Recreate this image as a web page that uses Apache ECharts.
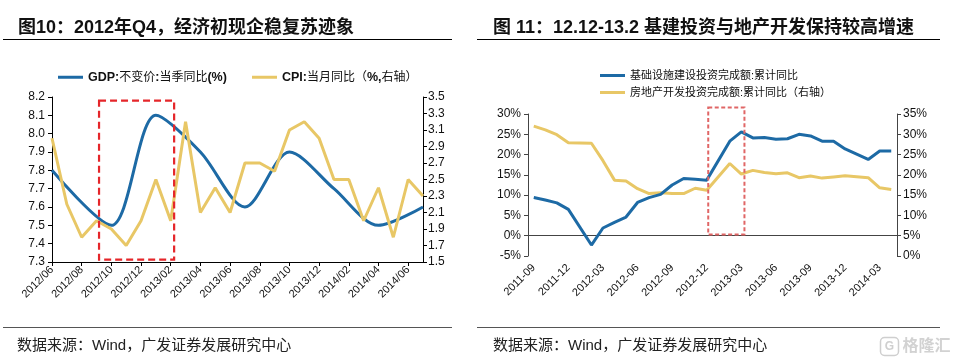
<!DOCTYPE html>
<html><head><meta charset="utf-8">
<script src="https://cdn.jsdelivr.net/npm/echarts@6/dist/echarts.min.js"></script>
<style>html,body{margin:0;padding:0;background:#fff}#c{width:954px;height:362px}</style>
</head><body><div id="c"></div>
<script>
// ---------- data ----------
const leftMonths = ['2012/06','2012/07','2012/08','2012/09','2012/10','2012/11','2012/12',
  '2013/01','2013/02','2013/03','2013/04','2013/05','2013/06','2013/07','2013/08','2013/09','2013/10','2013/11','2013/12',
  '2014/01','2014/02','2014/03','2014/04','2014/05','2014/06','2014/07'];
// GDP is quarterly: month on the axis and value
const gdpMonths = ['2012/06','2012/10','2013/01','2013/04','2013/07','2013/10','2014/01','2014/04','2014/07'];
const gdp = [7.8,7.5,8.1,7.9,7.6,7.9,7.7,7.5,7.6];
const cpi = [3.0,2.2,1.8,2.0,1.9,1.7,2.0,2.5,2.0,3.2,2.1,2.4,2.1,2.7,2.7,2.6,3.1,3.2,3.0,2.5,2.5,2.0,2.4,1.8,2.5,2.3];
const gdpName = 'GDP:不变价:当季同比(%)';
const cpiName = 'CPI:当月同比（%,右轴）';

const rightMonths = ['2011-09','2011-10','2011-11','2011-12',
  '2012-01','2012-02','2012-03','2012-04','2012-05','2012-06','2012-07','2012-08','2012-09','2012-10','2012-11','2012-12',
  '2013-01','2013-02','2013-03','2013-04','2013-05','2013-06','2013-07','2013-08','2013-09','2013-10','2013-11','2013-12',
  '2014-01','2014-02','2014-03','2014-04'];
const infra = [9.4,8.8,8.1,6.5,null,-2.3,1.9,3.3,4.6,8.2,9.4,10.2,12.5,14.1,13.9,13.7,null,23.3,25.6,24.1,24.2,23.8,23.9,25.0,24.6,23.3,23.3,21.4,null,18.8,20.9,20.9];
const realEstate = [32.0,31.1,29.9,27.9,null,27.8,23.5,18.7,18.5,16.6,15.4,15.6,15.4,15.4,16.7,16.2,null,22.8,20.2,21.1,20.6,20.3,20.5,19.3,19.7,19.2,19.5,19.8,null,19.3,16.8,16.4];
const infraName = '基础设施建设投资完成额:累计同比';
const reName = '房地产开发投资完成额:累计同比（右轴）';

const leftTitle = '图10：2012年Q4，经济初现企稳复苏迹象';
const rightTitle = '图 11：12.12-13.2 基建投资与地产开发保持较高增速';
const sourceText = '数据来源：Wind，广发证券发展研究中心';

// highlighted ranges (data coordinates)
const leftBox = {from: 3.17, to: 8.23, top: 8.18, bottom: 7.313};
const rightBox = {from: 15.13, to: 18.27, top: 31.6, bottom: 0.3};

// ---------- styles ----------
const FF = '"Liberation Sans", Arial, "Noto Sans CJK SC", sans-serif';
const BLUE = '#1d6aa5';
const YEL = '#e8c766';
const TXT = '#111';

const chart = echarts.init(document.getElementById('c'), null, {renderer: 'canvas'});

const yAxisBase = (extra) => Object.assign({
  type: 'value',
  axisLine: {show: true, lineStyle: {color: '#000', width: 1}},
  axisTick: {show: true, length: 4, lineStyle: {color: '#000'}},
  splitLine: {show: false},
  axisLabel: {fontSize: 12, color: TXT, fontFamily: FF, margin: 7}
}, extra);

const legendRich = {
  b: {fontWeight: 'bold', fontSize: 12.5, color: TXT, fontFamily: FF},
  n: {fontSize: 12, color: TXT, fontFamily: FF}
};
function boldLatin(name) {
  return name.replace(/([A-Za-z%(),:]+)|([^A-Za-z%(),:]+)/g, (m, a, c) => a ? '{b|' + a + '}' : '{n|' + c + '}');
}

const option = {
  animation: false,
  backgroundColor: '#fff',
  textStyle: {fontFamily: FF},
  title: [
    {text: leftTitle, left: 13, top: 14, textStyle: {fontSize: 18, fontWeight: 'bold', color: TXT, fontFamily: FF}},
    {text: rightTitle, left: 488, top: 14, textStyle: {fontSize: 18, fontWeight: 'bold', color: TXT, fontFamily: FF}},
    {text: sourceText, left: 12, top: 333, textStyle: {fontSize: 15, fontWeight: 'normal', color: '#222', fontFamily: FF}},
    {text: sourceText, left: 488, top: 333, textStyle: {fontSize: 15, fontWeight: 'normal', color: '#222', fontFamily: FF}}
  ],
  legend: [
    {data: [gdpName], left: 53, top: 66, icon: 'rect', itemWidth: 25, itemHeight: 3, itemGap: 0,
      formatter: boldLatin, textStyle: {fontSize: 12, color: TXT, fontFamily: FF, rich: legendRich}},
    {data: [cpiName], left: 247, top: 66, icon: 'rect', itemWidth: 25, itemHeight: 3, itemGap: 0,
      formatter: boldLatin, textStyle: {fontSize: 12, color: TXT, fontFamily: FF, rich: legendRich}},
    {data: [infraName, reName], left: 595, top: 65, orient: 'vertical', icon: 'rect', itemWidth: 25, itemHeight: 3, itemGap: 6,
      textStyle: {fontSize: 11, color: TXT, fontFamily: FF}}
  ],
  grid: [
    {left: 52, top: 97, width: 371, height: 165},
    {left: 528, top: 114, width: 369, height: 142}
  ],
  xAxis: [
    {gridIndex: 0, type: 'category', data: leftMonths, boundaryGap: false,
      axisLine: {lineStyle: {color: '#000'}},
      axisTick: {interval: 1, length: 4, lineStyle: {color: '#000'}},
      axisLabel: {interval: 1, rotate: 45, fontSize: 11, color: TXT, margin: 6, fontFamily: FF},
      splitLine: {show: false}},
    {gridIndex: 1, type: 'category', data: rightMonths, boundaryGap: true, position: 'bottom',
      axisLine: {onZero: true, onZeroAxisIndex: 2, lineStyle: {color: '#444'}},
      axisTick: {interval: 2, length: 4, lineStyle: {color: '#444'}},
      axisLabel: {show: false}, splitLine: {show: false}},
    {gridIndex: 1, type: 'category', data: rightMonths, boundaryGap: true, position: 'bottom',
      axisLine: {show: false, onZero: false},
      axisTick: {show: false},
      axisLabel: {interval: 2, rotate: 45, fontSize: 11, color: TXT, margin: 10, fontFamily: FF},
      splitLine: {show: false}}
  ],
  yAxis: [
    yAxisBase({gridIndex: 0, min: 7.3, max: 8.2, interval: 0.1, position: 'left',
      axisLabel: {fontSize: 12, color: TXT, fontFamily: FF, margin: 7, formatter: v => v.toFixed(1)}}),
    yAxisBase({gridIndex: 0, min: 1.5, max: 3.5, interval: 0.2, position: 'right',
      axisLabel: {fontSize: 12, color: TXT, fontFamily: FF, margin: 5, formatter: v => v.toFixed(1)}}),
    yAxisBase({gridIndex: 1, min: -5, max: 30, interval: 5, position: 'left',
      axisLine: {show: true, lineStyle: {color: '#444'}}, axisTick: {show: true, length: 4, lineStyle: {color: '#444'}},
      axisLabel: {fontSize: 12, color: TXT, fontFamily: FF, margin: 7, formatter: v => Math.round(v) + '%'}}),
    yAxisBase({gridIndex: 1, min: 0, max: 35, interval: 5, position: 'right',
      axisLine: {show: true, lineStyle: {color: '#444'}}, axisTick: {show: true, length: 4, lineStyle: {color: '#444'}},
      axisLabel: {fontSize: 12, color: TXT, fontFamily: FF, margin: 6, formatter: v => Math.round(v) + '%'}})
  ],
  series: [
    {name: gdpName, type: 'line', xAxisIndex: 0, yAxisIndex: 0, data: gdpMonths.map((m, i) => [m, gdp[i]]),
      smooth: 0.3, symbol: 'none', lineStyle: {color: BLUE, width: 3}, itemStyle: {color: BLUE}},
    {name: cpiName, type: 'line', xAxisIndex: 0, yAxisIndex: 1, data: cpi, symbol: 'none',
      lineStyle: {color: YEL, width: 3}, itemStyle: {color: YEL}},
    {name: infraName, type: 'line', xAxisIndex: 1, yAxisIndex: 2, data: infra, connectNulls: true, symbol: 'none',
      lineStyle: {color: BLUE, width: 3}, itemStyle: {color: BLUE}, z: 3},
    {name: reName, type: 'line', xAxisIndex: 1, yAxisIndex: 3, data: realEstate, connectNulls: true, symbol: 'none',
      lineStyle: {color: YEL, width: 3}, itemStyle: {color: YEL}, z: 2}
  ]
};
chart.setOption(option);

// fractional category position -> pixel
function catPx(xAxisIndex, yAxisIndex, f, yv) {
  const i0 = Math.floor(f);
  const a = chart.convertToPixel({xAxisIndex, yAxisIndex}, [i0, yv]);
  const b = chart.convertToPixel({xAxisIndex, yAxisIndex}, [i0 + 1, yv]);
  return [a[0] + (f - i0) * (b[0] - a[0]), a[1]];
}
function boxShape(xi, yi, box) {
  const p1 = catPx(xi, yi, box.from, box.top);
  const p2 = catPx(xi, yi, box.to, box.bottom);
  return {x: p1[0], y: p1[1], width: p2[0] - p1[0], height: p2[1] - p1[1]};
}

chart.setOption({
  graphic: [
    {type: 'line', shape: {x1: 3, y1: 39.5, x2: 452, y2: 39.5}, style: {stroke: '#000', lineWidth: 1}},
    {type: 'line', shape: {x1: 477, y1: 39.5, x2: 940, y2: 39.5}, style: {stroke: '#000', lineWidth: 1}},
    {type: 'line', shape: {x1: 3, y1: 327.5, x2: 452, y2: 327.5}, style: {stroke: '#555', lineWidth: 1}},
    {type: 'line', shape: {x1: 477, y1: 327.5, x2: 940, y2: 327.5}, style: {stroke: '#555', lineWidth: 1}},
    {type: 'rect', shape: boxShape(0, 0, leftBox), z: 100,
      style: {fill: 'none', stroke: '#e5262a', lineWidth: 2.2, lineDash: [7, 4]}},
    {type: 'rect', shape: boxShape(1, 2, rightBox), z: 100,
      style: {fill: 'none', stroke: '#e06666', lineWidth: 2, lineDash: [4, 2.5]}},
    {type: 'group', left: 878, top: 335, children: [
      {type: 'rect', shape: {x: 0, y: 0, width: 18, height: 18, r: 4}, style: {fill: 'none', stroke: '#cfcfcf', lineWidth: 1.5}},
      {type: 'text', style: {text: 'G', x: 9, y: 9, align: 'center', verticalAlign: 'middle', fill: '#cfcfcf', font: 'bold 12px ' + FF}},
      {type: 'text', style: {text: '格隆汇', x: 22, y: 9, verticalAlign: 'middle', fill: '#d2d2d2', font: 'bold 16px ' + FF}}
    ]}
  ]
});
</script>
</body></html>
